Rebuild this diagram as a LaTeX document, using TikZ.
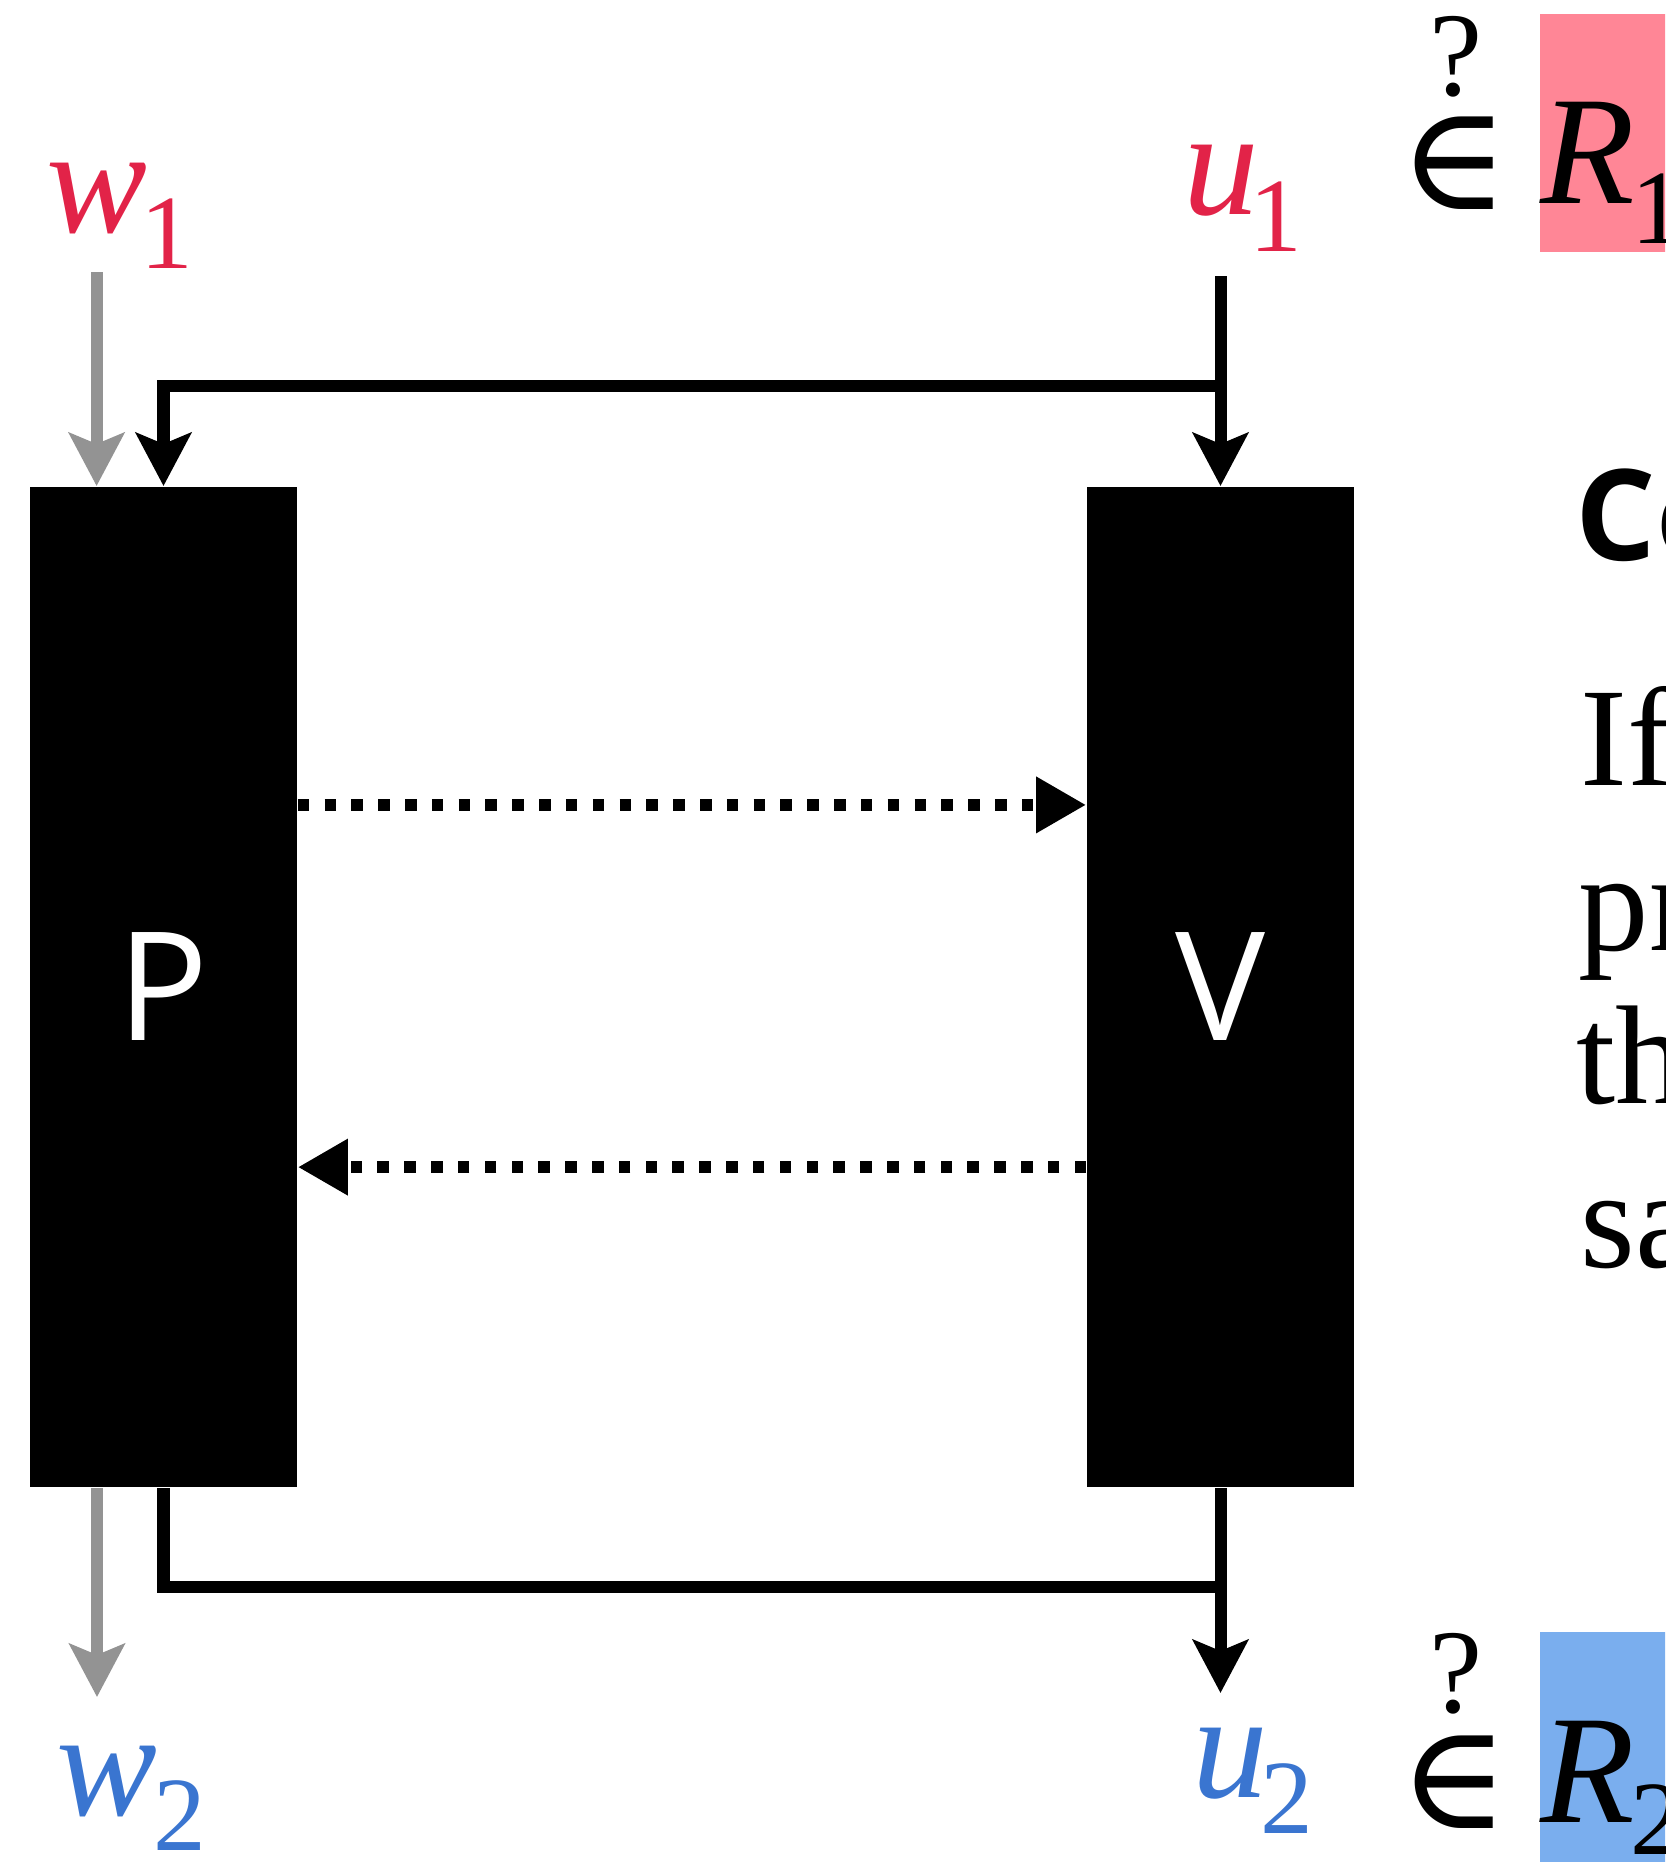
\documentclass[tikz,border=0pt]{standalone}
\usepackage{fontspec}
\setmainfont{Liberation Serif}
\newfontfamily\opensans{Open Sans}
\newfontfamily\symfont{DejaVu Serif}
\usetikzlibrary{arrows.meta}
\newcommand{\setfs}[1]{\fontsize{#1}{#1}\selectfont}
\definecolor{redlab}{RGB}{226,35,72}
\definecolor{bluelab}{RGB}{58,117,208}
\definecolor{pinkbg}{RGB}{255,134,150}
\definecolor{bluebg}{RGB}{122,174,238}
\definecolor{arrowgray}{RGB}{147,147,147}
\tikzset{
  conn/.style={line width=0.12cm, draw=black},
  arr/.style={conn, -{Stealth[length=0.53cm,width=0.55cm,inset=0.11cm]}},
  grayarr/.style={line width=0.12cm, color=arrowgray, -{Stealth[length=0.53cm,width=0.55cm,inset=0.11cm]}},
  msg/.style={line width=0.127cm, dash pattern=on 0.115cm off 0.153cm, -{Triangle[length=0.5cm,width=0.53cm]}},
  party/.style={fill=black, minimum width=2.67cm, minimum height=10cm, inner sep=0, text=white, font=\opensans\setfs{43}},
  lab/.style={inner sep=0, anchor=base west, font=\setfs{43}},
  qmark/.style={inner sep=0, anchor=base, font=\setfs{34}},
  elem/.style={inner sep=0, anchor=center, font=\symfont\setfs{42}},
  bodytext/.style={inner sep=0, anchor=base west, font=\setfs{40}},
}
\begin{document}
\begin{tikzpicture}[x=0.01cm, y=-0.01cm]
\useasboundingbox (0,0) rectangle (1665,1862);
\clip (0,0) rectangle (1665,1862);

% highlight rectangles
\fill[pinkbg] (1540,14) rectangle (1700,252);
\fill[bluebg] (1540,1632) rectangle (1700,1900);

% parties
\node[party] (P) at (163.5,987) {P};
\node[party] (V) at (1220.5,987) {V};

% labels
\node[lab, text=redlab] (w1) at (46,232) {\itshape w\kern-0.07cm\raisebox{-0.36cm}{\upshape\setfs{30}1}};
\node[lab, text=redlab] (u1) at (1183,214) {\itshape u\kern-0.1cm\raisebox{-0.37cm}{\upshape\setfs{30}1}};
\node[lab, text=bluelab] (w2) at (56,1815) {\itshape w\kern-0.04cm\raisebox{-0.35cm}{\upshape\setfs{30}2}};
\node[lab, text=bluelab] (u2) at (1192,1797) {\itshape u\kern-0.075cm\raisebox{-0.36cm}{\upshape\setfs{30}2}};

% membership checks
\node[qmark] (q1) at (1456,95) {?};
\node[elem] (in1) at (1454,163) {∈};
\node[lab, font=\setfs{44}] (R1) at (1540,203) {\itshape R\kern-0.04cm\raisebox{-0.4cm}{\upshape\setfs{30}1}};
\node[qmark] (q2) at (1456,1712) {?};
\node[elem] (in2) at (1454,1782) {∈};
\node[lab, font=\setfs{44}] (R2) at (1540,1822) {\itshape R\kern-0.05cm\raisebox{-0.32cm}{\upshape\setfs{30}2}};

% right-hand text (cut off at the edge)
\node[inner sep=0, anchor=base west, font=\opensans\bfseries\setfs{36}] (co) at (1575,560) {Co};
\node[bodytext] (t1) at (1580,785) {If};
\node[bodytext] (t2) at (1578,950) {pr};
\node[bodytext] (t3) at (1576,1103) {th};
\node[bodytext] (t4) at (1580,1267) {sa};

% input arrows
\coordinate (w1src) at (96.6,272);
\draw[grayarr] (w1src) -- (w1src |- P.north);
\coordinate (u1src) at (1220.5,276);
\draw[arr] (u1src) -- (V.north);
\coordinate (fork1) at (1220.5,386);
\draw[arr] (fork1) -| (P.north);

% messages
\draw[msg] ([yshift=1.82cm]P.east) -- ([yshift=1.82cm]V.west);
\draw[msg] ([yshift=-1.8cm]V.west) -- ([yshift=-1.8cm]P.east);

% output arrows
\coordinate (w2dst) at (97,1697);
\draw[grayarr] (w2dst |- P.south) -- (w2dst);
\coordinate (join2) at (1220.5,1587);
\draw[conn] (P.south) |- (join2);
\coordinate (u2dst) at (1220.5,1693);
\draw[arr] (V.south) -- (u2dst);
\end{tikzpicture}
\end{document}
